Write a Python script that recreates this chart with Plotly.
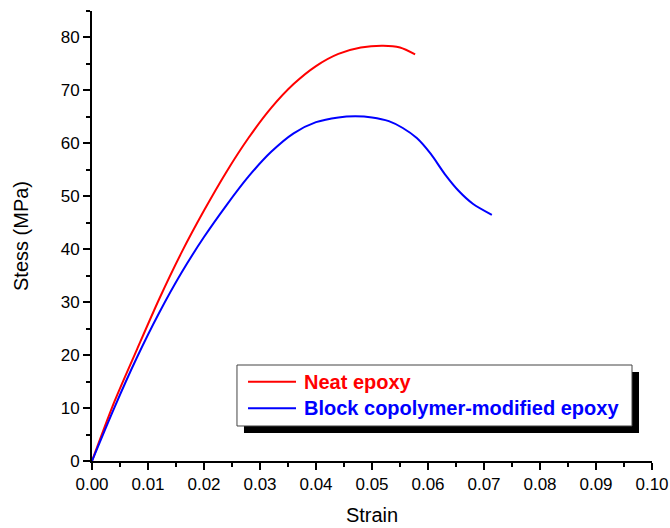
import plotly.graph_objects as go

# Data
neat_strain = [0.0, 0.004, 0.008, 0.012, 0.016, 0.020, 0.024, 0.028, 0.032,
               0.036, 0.040, 0.044, 0.048, 0.052, 0.055, 0.0577]
neat_stress = [0.0, 11.2, 21.0, 30.6, 39.4, 47.3, 54.6, 61.1, 66.7,
               71.2, 74.6, 76.9, 78.1, 78.45, 78.1, 76.8]

bcp_strain = [0.0, 0.004, 0.008, 0.012, 0.016, 0.020, 0.024, 0.028, 0.032,
              0.036, 0.040, 0.044, 0.047, 0.050, 0.053, 0.0555, 0.058,
              0.0605, 0.063, 0.0655, 0.068, 0.0714]
bcp_stress = [0.0, 10.1, 19.5, 28.0, 35.6, 42.3, 48.3, 53.8, 58.4,
              61.9, 64.0, 64.9, 65.1, 64.9, 64.2, 62.9, 61.0,
              58.0, 54.2, 51.0, 48.6, 46.5]

series_names = ["Neat epoxy", "Block copolymer-modified epoxy"]
series_colors = ["#ff0000", "#0000ff"]

x_tickvals = [0.00, 0.01, 0.02, 0.03, 0.04, 0.05, 0.06, 0.07, 0.08, 0.09, 0.10]
y_tickvals = [0, 10, 20, 30, 40, 50, 60, 70, 80]

FONT = "Arial, 'Liberation Sans', sans-serif"

fig = go.Figure()
for xs, ys, name, col in [(neat_strain, neat_stress, series_names[0], series_colors[0]),
                          (bcp_strain, bcp_stress, series_names[1], series_colors[1])]:
    fig.add_trace(go.Scatter(
        x=xs, y=ys, mode="lines", name=name, showlegend=False,
        line=dict(color=col, width=2, shape="spline", smoothing=0.8),
    ))

axis_common = dict(
    showline=True, linecolor="black", linewidth=2,
    ticks="outside", ticklen=7, tickwidth=1.5, tickcolor="black",
    showgrid=False, zeroline=False, mirror=False, automargin=False,
    tickfont=dict(family=FONT, size=17, color="black"),
)

# Legend box (drawn as layout decoration, with drop shadow like the original)
box = dict(x0=0.2589, x1=0.9643, y0=0.0778, y1=0.2133)
shadow_dx, shadow_dy = 0.0125, 0.0156
row_y = [0.1762, 0.1171]
sample_x = (0.2786, 0.3643)
text_x = 0.3750

shapes = [
    dict(type="rect", xref="paper", yref="paper",
         x0=box["x0"] + shadow_dx, x1=box["x1"] + shadow_dx,
         y0=box["y0"] - shadow_dy, y1=box["y1"] - shadow_dy,
         fillcolor="black", line=dict(width=0), layer="above"),
    dict(type="rect", xref="paper", yref="paper", **box,
         fillcolor="white", line=dict(color="#444444", width=1), layer="above"),
]
annotations = []
for name, col, ry in zip(series_names, series_colors, row_y):
    shapes.append(dict(type="line", xref="paper", yref="paper",
                       x0=sample_x[0], x1=sample_x[1], y0=ry, y1=ry,
                       line=dict(color=col, width=2), layer="above"))
    annotations.append(dict(xref="paper", yref="paper", x=text_x, y=ry,
                            xanchor="left", yanchor="middle", showarrow=False,
                            text=f"<b>{name}</b>",
                            font=dict(family=FONT, size=20, color=col)))

fig.update_layout(
    width=670, height=528,
    margin=dict(l=92, r=18, t=11, b=67),
    paper_bgcolor="white", plot_bgcolor="white",
    font=dict(family=FONT, color="black"),
    showlegend=False,
    xaxis=dict(range=[0, 0.10], tickvals=x_tickvals, tickformat=".2f",
               title=dict(text="Strain", font=dict(family=FONT, size=20), standoff=15),
               minor=dict(dtick=0.005, tick0=0, ticks="outside", ticklen=4,
                          tickwidth=1.5, tickcolor="black", showgrid=False),
               **axis_common),
    yaxis=dict(range=[0, 85], tickvals=y_tickvals,
               title=dict(text="Stess (MPa)", font=dict(family=FONT, size=20), standoff=27),
               minor=dict(dtick=5, tick0=0, ticks="outside", ticklen=4,
                          tickwidth=1.5, tickcolor="black", showgrid=False),
               **axis_common),
    shapes=shapes,
    annotations=annotations,
)

fig.write_html("out.html",
               config={"displayModeBar": False},
               post_script="document.body.style.margin='0px';document.body.style.overflow='hidden';")
